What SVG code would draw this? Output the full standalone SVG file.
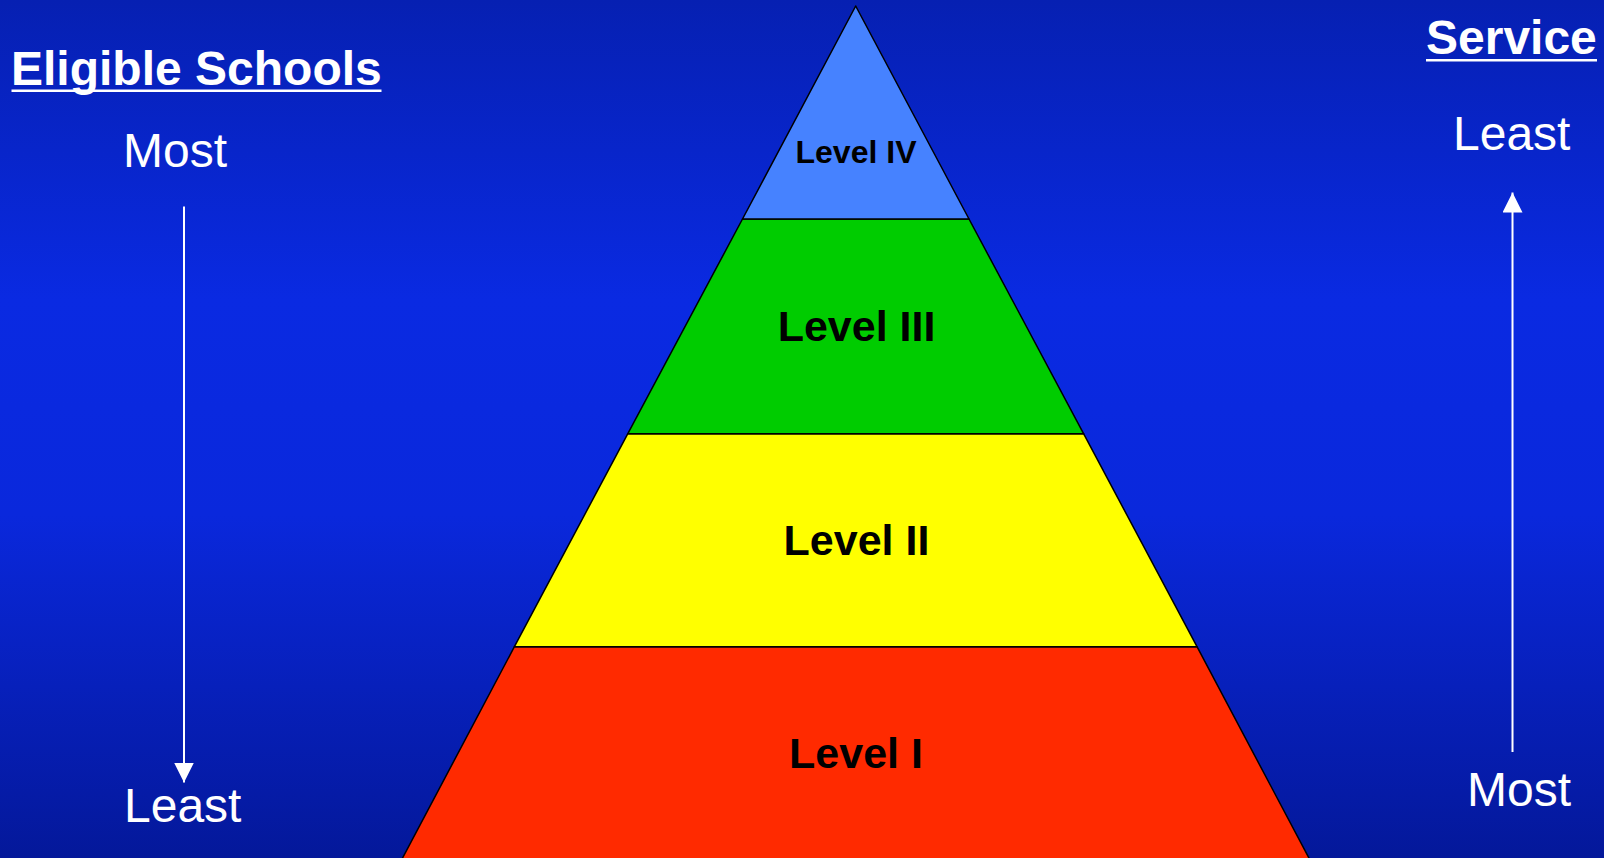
<svg xmlns="http://www.w3.org/2000/svg" width="1604" height="858" viewBox="0 0 1604 858">
<defs>
<linearGradient id="bg" x1="0" y1="0" x2="0" y2="1">
<stop offset="0" stop-color="#0620b2"/>
<stop offset="0.35" stop-color="#0a2ae2"/>
<stop offset="0.6" stop-color="#0a28dc"/>
<stop offset="1" stop-color="#04189a"/>
</linearGradient>
<marker id="ah" viewBox="0 0 20 20" refX="20" refY="10" markerWidth="20" markerHeight="20" markerUnits="userSpaceOnUse" orient="auto">
<path d="M0,0 L20,10 L0,20 Z" fill="#ffffff"/>
</marker>
<style>
.lvl{stroke:#000;stroke-width:1.5;stroke-linejoin:round}
.lbl{font-family:"Liberation Sans",Arial,sans-serif;font-weight:bold;fill:#000;text-anchor:middle}
.hdr{font-family:"Liberation Sans",Arial,sans-serif;font-weight:bold;font-size:48px;fill:#fff}
.ul{fill:#fff}
.side{font-family:"Liberation Sans",Arial,sans-serif;font-size:48px;fill:#fff}
.conn{stroke:#fff;stroke-width:2;fill:none}
</style>
</defs>
<rect width="1604" height="858" fill="url(#bg)"/>
<g id="level1">
<polygon class="lvl" points="514.4,646.7 1197,646.7 1310,860 401.5,860" fill="#ff2a00"/>
<text class="lbl" x="856" y="768" font-size="43">Level I</text>
</g>
<g id="level2">
<polygon class="lvl" points="627.7,433.8 1083.7,433.8 1197,646.7 514.4,646.7" fill="#ffff00"/>
<text class="lbl" x="856.5" y="554.5" font-size="43">Level II</text>
</g>
<g id="level3">
<polygon class="lvl" points="742.5,219 969,219 1083.7,433.8 627.7,433.8" fill="#00cc00"/>
<text class="lbl" x="856.5" y="341" font-size="43">Level III</text>
</g>
<g id="level4">
<polygon class="lvl" points="855.7,6 969,219 742.5,219" fill="#4682ff"/>
<text class="lbl" x="856" y="162.5" font-size="32">Level IV</text>
</g>
<g id="eligible">
<text class="hdr" x="11" y="85">Eligible Schools</text>
<rect class="ul" x="11.5" y="89.5" width="370" height="2.5"/>
<text class="side" x="123" y="166.5">Most</text>
<text class="side" x="124" y="821.5">Least</text>
</g>
<g id="service">
<text class="hdr" x="1426" y="53.5">Service</text>
<rect class="ul" x="1426" y="59" width="171" height="2.5"/>
<text class="side" x="1453" y="150">Least</text>
<text class="side" x="1467" y="806">Most</text>
</g>
<g id="connectors">
<line class="conn" x1="184" y1="206.5" x2="184" y2="782.5" marker-end="url(#ah)"/>
<line class="conn" x1="1512.5" y1="752" x2="1512.5" y2="192.5" marker-end="url(#ah)"/>
</g>
</svg>
